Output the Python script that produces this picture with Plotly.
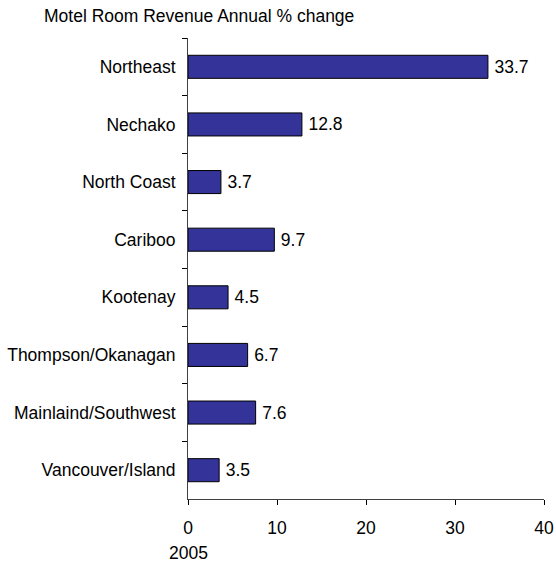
import plotly.graph_objects as go

# Dados
regioes = ["Northeast", "Nechako", "North Coast", "Cariboo", "Kootenay",
           "Thompson/Okanagan", "Mainlaind/Southwest", "Vancouver/Island"]
variacao = [33.7, 12.8, 3.7, 9.7, 4.5, 6.7, 7.6, 3.5]
x_ticks = [0, 10, 20, 30, 40]

FONTE = "Liberation Sans, Arial, sans-serif"
TAM = 17.5

fig = go.Figure(go.Bar(
    x=variacao,
    y=regioes,
    orientation="h",
    width=0.4,
    marker=dict(color="#333399", line=dict(color="#000000", width=1)),
    text=variacao,
    texttemplate="\u2009%{x:.1f}",  # pequeno espaço entre barra e rótulo
    textposition="outside",
    textfont=dict(size=TAM, color="#000000", family=FONTE),
    cliponaxis=False,
))

fig.update_layout(
    width=556, height=564,
    paper_bgcolor="white", plot_bgcolor="white",
    font=dict(family=FONTE, size=TAM, color="#000000"),
    margin=dict(t=38, b=65, l=188, r=12, autoexpand=False),
    showlegend=False,
    xaxis=dict(
        range=[0, 40], tickvals=x_ticks, showgrid=False, zeroline=False,
        showline=True, linecolor="#404040", linewidth=1,
        ticks="outside", ticklen=5, tickcolor="#000000",
        ticklabelstandoff=8,
    ),
    yaxis=dict(
        autorange="reversed", showgrid=False, zeroline=False,
        showline=True, linecolor="#404040", linewidth=1,
        ticks="outside", ticklen=5, tickcolor="#000000",
        tickson="boundaries", ticklabelstandoff=8,
    ),
    annotations=[
        dict(text="Motel Room Revenue Annual % change",
             xref="paper", yref="paper", x=(42 - 188) / 356, y=1 + 22 / 461,
             xanchor="left", yanchor="middle", showarrow=False),
        dict(text="2005", xref="paper", yref="paper", x=0, y=-54 / 461,
             xanchor="center", yanchor="middle", showarrow=False),
    ],
)

# tira a margem padrão do body para a figura ocupar a janela inteira
fig.write_html("out.html", config={"displayModeBar": False},
               post_script="document.body.style.margin='0';")
